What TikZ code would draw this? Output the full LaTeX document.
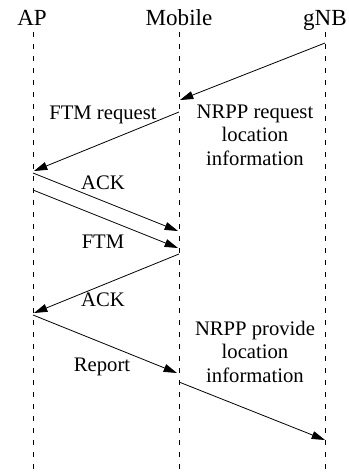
\documentclass[tikz,border=0pt]{standalone}
\usepackage{fontspec}
\setmainfont{Liberation Serif}
\usetikzlibrary{arrows.meta}
\begin{document}
\begin{tikzpicture}[x=0.75pt,y=-0.75pt,
  lifeline/.style={draw=black, line width=0.5pt, dash pattern=on 4pt off 5pt},
  msg/.style={draw=black, line width=0.6pt, -{Triangle[length=10pt,width=6pt]}},
  head/.style={font=\fontsize{17.3}{19}\selectfont, anchor=base, inner sep=0pt},
  lbl/.style={font=\fontsize{15.5}{17.3}\selectfont, anchor=base, inner sep=0pt, align=center}]
  \useasboundingbox (0,0) rectangle (349,472);
  % participants
  \node[head] (ap) at (32,25) {AP};
  \node[head] (mob) at (179,25) {Mobile};
  \node[head] (gnb) at (325,25) {gNB};
  % lifelines
  \coordinate (apT) at (33,32);  \coordinate (apB) at (33,472);
  \coordinate (mT) at (179,32);  \coordinate (mB) at (179,472);
  \coordinate (gT) at (325,32);  \coordinate (gB) at (325,472);
  \draw[lifeline] (apT) -- (apB);
  \draw[lifeline] (mT) -- (mB);
  \draw[lifeline] (gT) -- (gB);
  % message end points
  \coordinate (g1) at (325,43);  \coordinate (m1) at (180,100);
  \coordinate (m2) at (179,112); \coordinate (a2) at (34,171);
  \coordinate (a3) at (33,173);  \coordinate (m3) at (178,231);
  \coordinate (a4) at (33,190);  \coordinate (m4) at (178,248);
  \coordinate (m5) at (179,254); \coordinate (a5) at (34,313);
  \coordinate (a6) at (33,315);  \coordinate (m6) at (177,373);
  \coordinate (m7) at (179,382); \coordinate (g7) at (325,440);
  % messages
  \draw[msg] (g1) -- (m1);
  \draw[msg] (m2) -- (a2);
  \draw[msg] (a3) -- (m3);
  \draw[msg] (a4) -- (m4);
  \draw[msg] (m5) -- (a5);
  \draw[msg] (a6) -- (m6);
  \draw[msg] (m7) -- (g7);
  % labels (multi-line nodes sit on the baseline of their last line)
  \node[lbl] (l1) at (103,119) {FTM request};
  \node[lbl] (l2) at (255,165) {NRPP request\\location\\information};
  \node[lbl] (l3) at (103,189) {ACK};
  \node[lbl] (l4) at (103,248) {FTM};
  \node[lbl] (l5) at (103,306) {ACK};
  \node[lbl] (l6) at (102,371) {Report};
  \node[lbl] (l7) at (255,382) {NRPP provide\\location\\information};
\end{tikzpicture}
\end{document}
